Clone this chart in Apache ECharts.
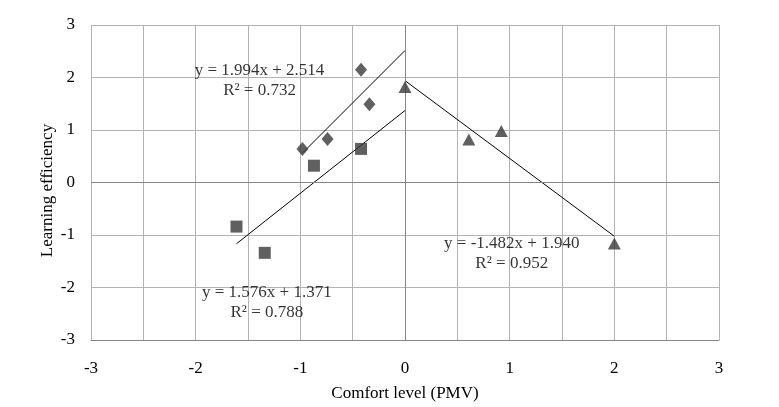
<!DOCTYPE html>
<html>
<head>
<meta charset="utf-8">
<script src="https://cdn.jsdelivr.net/npm/echarts@6/dist/echarts.min.js"></script>
<style>html,body{margin:0;padding:0;background:#fff}#c{width:779px;height:407px}</style>
</head>
<body>
<div id="c"></div>
<script>
// Data
var diamondX = [-0.98, -0.74, -0.42, -0.34];
var diamondY = [0.64, 0.83, 2.15, 1.49];
var squareX = [-1.61, -1.34, -0.87, -0.42];
var squareY = [-0.84, -1.34, 0.32, 0.64];
var triangleX = [0.0, 0.61, 0.92, 2.0];
var triangleY = [1.82, 0.82, 0.98, -1.16];

// Trendlines: slope, intercept, x-range
var trendSlope = [1.994, 1.576, -1.482];
var trendIntercept = [2.514, 1.371, 1.940];
var trendFrom = [-0.98, -1.61, 0.0];
var trendTo = [0.0, 0.0, 2.0];
var trendEqn = ['y = 1.994x + 2.514', 'y = 1.576x + 1.371', 'y = -1.482x + 1.940'];
var trendR2 = ['R² = 0.732', 'R² = 0.788', 'R² = 0.952'];
var labelAtX = [-1.39, -1.32, 1.02];
var labelAtY = [1.94, -2.29, -1.35];

var xTicks = [-3, -2, -1, 0, 1, 2, 3];
var yTicks = [-3, -2, -1, 0, 1, 2, 3];

function pts(xs, ys) { return xs.map(function (x, i) { return [x, ys[i]]; }); }

var FONT = 'Liberation Serif';
var FS = 17;
var markerColor = '#383838';
var series = [
  { type: 'scatter', data: pts(diamondX, diamondY), symbol: 'diamond', symbolSize: [12, 14], itemStyle: { color: markerColor }, z: 5,
    markLine: { silent: true, symbol: 'none', label: { show: false }, lineStyle: { color: '#868686', width: 1, type: 'solid' },
      data: [{ xAxis: 0 }, { yAxis: 0 }] } },
  { type: 'scatter', data: pts(squareX, squareY), symbol: 'rect', symbolSize: 12, itemStyle: { color: markerColor }, z: 5 },
  { type: 'scatter', data: pts(triangleX, triangleY), symbol: 'triangle', symbolSize: [13, 12], itemStyle: { color: markerColor }, z: 5 }
];
for (var i = 0; i < 3; i++) {
  series.push({
    type: 'line', showSymbol: false, symbol: 'none', silent: true, z: 4,
    lineStyle: { color: '#000', width: 1 },
    data: [[trendFrom[i], trendSlope[i] * trendFrom[i] + trendIntercept[i]], [trendTo[i], trendSlope[i] * trendTo[i] + trendIntercept[i]]]
  });
}
series.push({
  type: 'scatter', symbolSize: 0, silent: true, z: 6,
  data: labelAtX.map(function (x, i) { return { value: [x, labelAtY[i]], name: trendEqn[i] + '\n' + trendR2[i] }; }),
  label: { show: true, position: 'inside', formatter: function (p) { return p.name; }, fontFamily: FONT, fontSize: FS, color: '#000', lineHeight: 20, align: 'center' }
});

var chart = echarts.init(document.getElementById('c'));
chart.setOption({
  animation: false,
  backgroundColor: '#fff',
  grid: { left: 91, right: 60, top: 25, bottom: 67 },
  xAxis: {
    type: 'value', min: -3, max: 3, interval: 0.5,
    name: 'Comfort level (PMV)', nameLocation: 'middle', nameGap: 45, nameMoveOverlap: false,
    nameTextStyle: { fontFamily: FONT, fontSize: FS, color: '#000' },
    axisLine: { show: true, onZero: false, lineStyle: { color: '#868686' } },
    axisTick: { show: false },
    axisLabel: { margin: 20, fontFamily: FONT, fontSize: FS, color: '#000',
      formatter: function (v) { return xTicks.indexOf(v) >= 0 ? String(v) : ''; } },
    splitLine: { show: true, lineStyle: { color: '#b3b3b3', width: 1 } }
  },
  yAxis: {
    type: 'value', min: -3, max: 3, interval: 1,
    name: 'Learning efficiency', nameLocation: 'middle', nameGap: 35, nameMoveOverlap: false,
    nameTextStyle: { fontFamily: FONT, fontSize: FS, color: '#000', padding: [0, 16, 0, 0] },
    axisLine: { show: false },
    axisTick: { show: false },
    axisLabel: { margin: 16, fontFamily: FONT, fontSize: FS, color: '#000',
      formatter: function (v) { return yTicks.indexOf(v) >= 0 ? String(v) : ''; } },
    splitLine: { show: true, lineStyle: { color: '#b3b3b3', width: 1 } }
  },
  series: series
});
</script>
</body>
</html>
